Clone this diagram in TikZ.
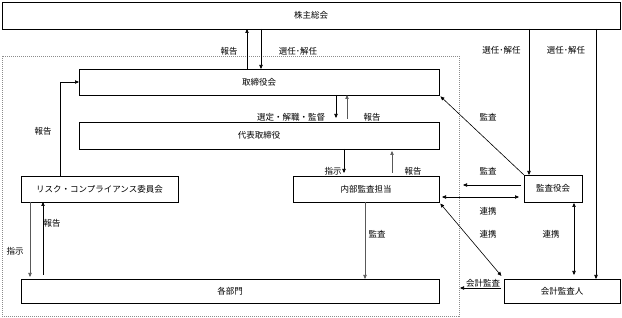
\documentclass[tikz,border=0pt]{standalone}
\usepackage{fontspec}
\setmainfont{Noto Sans CJK JP}
\usetikzlibrary{arrows.meta}
\newcommand{\fs}{\fontsize{8.5}{10}\selectfont}
\begin{document}
\begin{tikzpicture}[x=1pt,y=-1pt,
  box/.style={draw, line width=0.9pt, inner sep=0pt, outer sep=0pt, font=\fs},
  lbl/.style={inner sep=0pt, font=\fs},
  tip/.tip={Triangle[length=4pt,width=3.4pt]},
  arr/.style={line width=0.6pt, -tip},
  darr/.style={line width=0.6pt, tip-tip},
  garr/.style={arr, draw=black!65, fill=black!65}]
\useasboundingbox (0,0) rectangle (622,318);
% group frame
\node[draw=black!45, dash pattern=on 1pt off 1pt, line width=0.6pt, inner sep=0pt,
      minimum width=457pt, minimum height=260pt] (grp) at (230.5,186) {};
% boxes
\node[box, minimum width=618pt, minimum height=27pt] (kab) at (311,15.5) {株主総会};
\node[box, minimum width=360pt, minimum height=26pt] (tori) at (259,82) {取締役会};
\node[box, minimum width=360pt, minimum height=27pt] (dai) at (259,135.5) {代表取締役};
\node[box, minimum width=157pt, minimum height=26pt] (risk) at (99.5,189) {リスク・コンプライアンス委員会};
\node[box, minimum width=146pt, minimum height=26pt] (naibu) at (366,189) {内部監査担当};
\node[box, minimum width=418pt, minimum height=24pt] (kaku) at (230,291) {各部門};
\node[box, minimum width=58pt, minimum height=27pt] (kansa) at (553,188.5) {監査役会};
\node[box, minimum width=116pt, minimum height=24pt] (kaikei) at (562,291) {会計監査人};
% x positions
\coordinate (c30) at (30,0);
\coordinate (c43) at (43,0);
\coordinate (c60) at (60,0);
\coordinate (c247) at (247,0);
\coordinate (c261) at (261,0);
\coordinate (c336) at (336,0);
\coordinate (c347) at (347,0);
\coordinate (c344) at (344,0);
\coordinate (c392) at (392,0);
\coordinate (c365) at (365,0);
\coordinate (c529) at (529,0);
\coordinate (c574) at (574,0);
\coordinate (c596) at (596,0);
\coordinate (y185) at (0,185);
\coordinate (y197) at (0,197);
\coordinate (y288) at (0,288);
\coordinate (e1) at (463,185);
\coordinate (e2) at (460,288);
% connectors
\draw[arr] (tori.north -| c247) -- (kab.south -| c247);
\draw[arr] (kab.south -| c261) -- (tori.north -| c261);
\draw[arr] (kab.south -| c529) -- (kansa.north -| c529);
\draw[arr] (kab.south -| c596) -- (kaikei.north -| c596);
\draw[arr, shorten >=4pt] (tori.south -| c336) -- (dai.north -| c336);
\draw[garr, shorten <=3pt] (dai.north -| c347) -- (tori.south -| c347);
\draw[arr, shorten >=3pt] (dai.south -| c344) -- (naibu.north -| c344);
\draw[garr, shorten <=3pt, shorten >=2pt] (naibu.north -| c392) -- (dai.south -| c392);
\draw[arr] (risk.north -| c60) |- (tori.west);
\draw[garr, shorten >=2pt] (risk.south -| c30) -- (kaku.north -| c30);
\draw[arr, shorten <=4pt] (kaku.north -| c43) -- (risk.south -| c43);
\draw[garr] (naibu.south -| c365) -- (kaku.north -| c365);
\draw[arr, shorten >=2pt] (kansa.north west) -- (tori.south east);
\draw[arr, shorten <=3pt] (kansa.west |- y185) -- (e1);
\draw[darr, shorten <=3pt, shorten >=5pt] (naibu.east |- y197) -- (kansa.west |- y197);
\draw[darr, shorten <=2pt, shorten >=4pt] (naibu.south east) -- (kaikei.north west);
\draw[darr, shorten <=1pt, shorten >=4pt] (kansa.south -| c574) -- (kaikei.north -| c574);
\draw[arr, shorten <=3pt] (kaikei.west |- y288) -- (e2);
% labels
\node[lbl] (l1) at (229,51) {報告};
\node[lbl] (l2) at (298,51) {選任･解任};
\node[lbl] (l3) at (501.5,50) {選任･解任};
\node[lbl] (l4) at (566,50) {選任･解任};
\node[lbl] (l5) at (291,117) {選定・解職・監督};
\node[lbl] (l6) at (372,117) {報告};
\node[lbl] (l7) at (43,131) {報告};
\node[lbl] (l8) at (333,171) {指示};
\node[lbl] (l9) at (413,171) {報告};
\node[lbl] (l10) at (488,117) {監査};
\node[lbl] (l11) at (488,171) {監査};
\node[lbl] (l12) at (488,211) {連携};
\node[lbl] (l13) at (488,234) {連携};
\node[lbl] (l14) at (551,234) {連携};
\node[lbl] (l15) at (52,223) {報告};
\node[lbl] (l16) at (15,251) {指示};
\node[lbl] (l17) at (377,234) {監査};
\node[lbl] (l18) at (483,283.5) {会計監査};
\end{tikzpicture}
\end{document}
